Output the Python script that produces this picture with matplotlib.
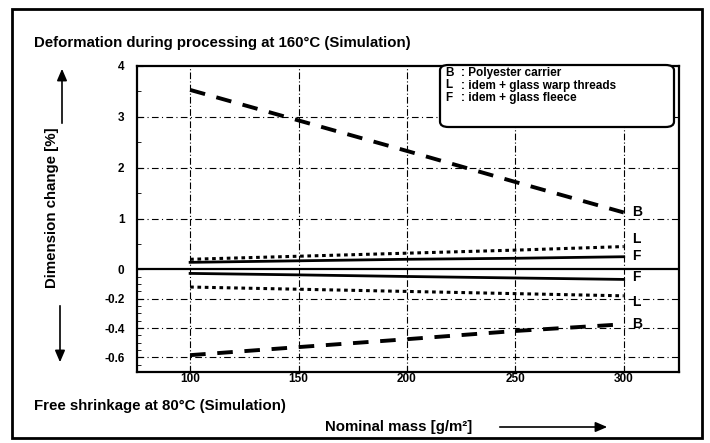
import numpy as np
import matplotlib
matplotlib.use("Agg")
import matplotlib.pyplot as plt
from matplotlib.patches import FancyBboxPatch, Rectangle, FancyArrowPatch

# ---- data ----
mass = [100, 150, 200, 250, 300]
B_def = [3.53, 2.93, 2.33, 1.72, 1.12]      # deformation at 160 °C, polyester carrier
L_def = [0.20, 0.26, 0.32, 0.38, 0.45]      # idem + glass warp threads
F_def = [0.14, 0.17, 0.20, 0.22, 0.25]      # idem + glass fleece
F_shr = [-0.027, -0.037, -0.048, -0.058, -0.068]   # free shrinkage at 80 °C
L_shr = [-0.12, -0.135, -0.15, -0.165, -0.18]
B_shr = [-0.585, -0.53, -0.476, -0.42, -0.374]
xticks = [100, 150, 200, 250, 300]
yticks = [-0.6, -0.4, -0.2, 0, 1, 2, 3, 4]
ytick_labels = ["-0.6", "-0.4", "-0.2", "0", "1", "2", "3", "4"]
legend_keys = ["B", "L", "F"]
legend_texts = [": Polyester carrier", ": idem + glass warp threads", ": idem + glass fleece"]

NEG = 2.88


def fwd(y):
    y = np.asarray(y, dtype=float)
    return np.where(y >= 0, y, y * NEG)


def inv(u):
    u = np.asarray(u, dtype=float)
    return np.where(u >= 0, u, u / NEG)


plt.rcParams['font.family'] = ['Liberation Sans', 'DejaVu Sans']
plt.rcParams['font.weight'] = 'bold'

fig = plt.figure(figsize=(7.1, 4.43), dpi=100)
W, H = 710, 443

def fx(px):
    return px / W

def fy(py):
    return 1 - py / H

# outer frame
fig.patches.append(Rectangle((fx(12), fy(438)), fx(702) - fx(12), fy(9) - fy(438),
                             transform=fig.transFigure, fill=False, lw=2.0,
                             edgecolor='black'))

ax = fig.add_axes([fx(137), fy(372), fx(679) - fx(137), fy(66) - fy(372)])
ax.set_yscale('function', functions=(fwd, inv))
ax.set_xlim(75.5, 325.5)
ax.set_ylim(-0.70, 4.0)

# grid
for x in xticks:
    ax.axvline(x, color='black', lw=0.8, ls=(0, (6, 2, 1, 2)), zorder=1)
for y in [1, 2, 3, -0.2, -0.4, -0.6]:
    ax.axhline(y, color='black', lw=0.8, ls=(0, (6, 3, 1, 3)), zorder=1)
ax.axhline(0, color='black', lw=1.6, zorder=2)

# series
ax.plot(mass, B_def, color='black', lw=2.8, ls=(0, (4, 3)))
ax.plot(mass, L_def, color='black', lw=2.2, ls=(0, (1.2, 1.2)))
ax.plot(mass, F_def, color='black', lw=2.0, ls='-')
ax.plot(mass, F_shr, color='black', lw=2.0, ls='-')
ax.plot(mass, L_shr, color='black', lw=2.2, ls=(0, (1.2, 1.2)))
ax.plot(mass, B_shr, color='black', lw=2.8, ls=(0, (4, 3)))

# end labels
end_x = 304
for val, key in [(B_def[-1], "B"), (0.6, "L"), (0.27, "F"),
                 (-0.054, "F"), (-0.22, "L"), (B_shr[-1], "B")]:
    ax.text(end_x, val, key, fontsize=10, fontweight='bold', va='center', ha='left')

# ticks
ax.set_xticks(xticks)
ax.set_xticklabels([str(x) for x in xticks], fontsize=8.5, fontweight='bold')
ax.set_yticks(yticks)
ax.set_yticklabels(ytick_labels, fontsize=8.5, fontweight='bold')
ax.set_yticks([0.5, 1.5, 2.5, 3.5, -0.1, -0.3, -0.5, -0.05, -0.15, -0.25, -0.35,
               -0.45, -0.55, -0.65], minor=True)
ax.tick_params(axis='y', which='major', direction='in', length=4, pad=9)
ax.tick_params(axis='y', which='minor', direction='in', length=3)
ax.tick_params(axis='x', which='major', direction='in', length=4, pad=1)
for s in ax.spines.values():
    s.set_linewidth(1.6)

# legend box
box = FancyBboxPatch((fx(440), fy(127)), fx(674) - fx(440), fy(65) - fy(127),
                     boxstyle="round,pad=0,rounding_size=0.012",
                     transform=fig.transFigure, fill=True, facecolor='white',
                     edgecolor='black', lw=1.6, zorder=5)
fig.patches.append(box)
for i, (k, t) in enumerate(zip(legend_keys, legend_texts)):
    yy = fy(73 + i * 12.5)
    fig.text(fx(445), yy, k, fontsize=8.5, fontweight='bold', va='center', zorder=6)
    fig.text(fx(461), yy, t, fontsize=8.5, fontweight='bold', va='center', zorder=6)

# titles
fig.text(fx(34), fy(43), "Deformation during processing at 160°C (Simulation)",
         fontsize=10.8, fontweight='bold', va='center', ha='left')
fig.text(fx(34), fy(406), "Free shrinkage at 80°C (Simulation)",
         fontsize=10.8, fontweight='bold', va='center', ha='left')
fig.text(fx(325), fy(427), "Nominal mass [g/m²]",
         fontsize=10.8, fontweight='bold', va='center', ha='left')
fig.text(fx(52), fy(208), "Dimension change [%]", rotation=90,
         fontsize=10.8, fontweight='bold', va='center', ha='center')

# arrows
fig.patches.append(FancyArrowPatch(
    (fx(497), fy(427)), (fx(610), fy(427)), transform=fig.transFigure,
    arrowstyle='-|>,head_length=7,head_width=3', color='black', lw=1.2))
fig.patches.append(FancyArrowPatch(
    (fx(62), fy(126)), (fx(62), fy(66)), transform=fig.transFigure,
    arrowstyle='-|>,head_length=7,head_width=3', color='black', lw=1.2))
fig.patches.append(FancyArrowPatch(
    (fx(60), fy(303)), (fx(60), fy(365)), transform=fig.transFigure,
    arrowstyle='-|>,head_length=7,head_width=3', color='black', lw=1.2))

fig.savefig("out.png", dpi=100)
